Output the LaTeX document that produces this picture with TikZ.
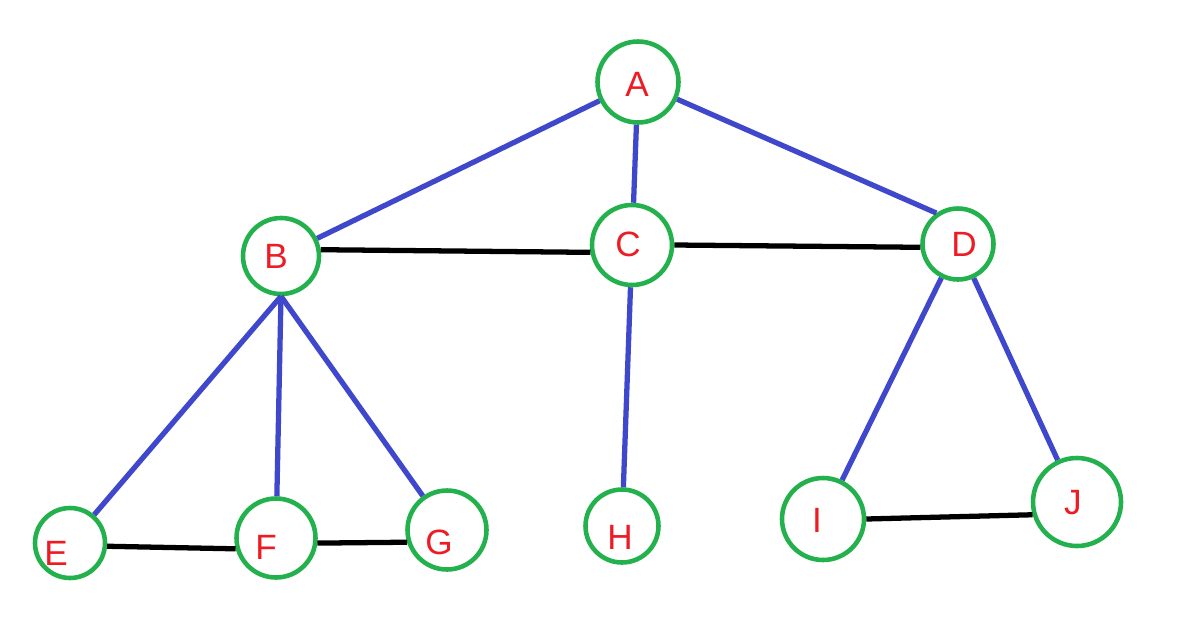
\documentclass[tikz,border=0pt]{standalone}
\usepackage{fontspec}
\setmainfont{Liberation Sans}
\usepackage{tikz}
\usetikzlibrary{positioning}

\definecolor{ringgreen}{RGB}{34,177,76}
\definecolor{treeblue}{RGB}{63,72,204}
\definecolor{tagred}{RGB}{237,28,36}

\begin{document}
\begin{tikzpicture}[
  vtx/.style={circle,draw=ringgreen,line width=2.6pt,inner sep=0pt},
  ltr/.style={text=tagred,font=\fontsize{20}{20}\selectfont,inner sep=0pt},
  tree/.style={draw=treeblue,line width=3pt},
  link/.style={draw=black,line width=3pt}]

\useasboundingbox (0,0) rectangle (23.9,-12.32);

% --- circles, one per vertex ---
\node[vtx,minimum size=1.62cm] (A) at (12.76,-1.64) {};
\node[vtx,minimum size=1.52cm] (B) at (5.62,-5.12) {};
\node[vtx,minimum size=1.60cm] (C) at (12.64,-4.90) {};
\node[vtx,minimum size=1.42cm] (D) at (19.16,-4.88) {};
\node[vtx,minimum size=1.40cm] (E) at (1.40,-10.86) {};
\node[vtx,minimum size=1.58cm] (F) at (5.52,-10.76) {};
\node[vtx,minimum size=1.58cm] (G) at (8.94,-10.60) {};
\node[vtx,minimum size=1.46cm] (H) at (12.44,-10.52) {};
\node[vtx,minimum size=1.64cm] (I) at (16.46,-10.38) {};
\node[vtx,minimum size=1.76cm] (J) at (21.54,-10.04) {};

% --- letters, a little off centre as drawn ---
\node[ltr] (lA) at (12.74,-1.68) {A};
\node[ltr] (lB) at (5.52,-5.12) {B};
\node[ltr] (lC) at (12.56,-4.88) {C};
\node[ltr] (lD) at (19.28,-4.88) {D};
\node[ltr] (lE) at (1.12,-11.06) {E};
\node[ltr] (lF) at (5.32,-10.94) {F};
\node[ltr] (lG) at (8.78,-10.84) {G};
\node[ltr] (lH) at (12.40,-10.74) {H};
\node[ltr] (lI) at (16.34,-10.40) {I};
\node[ltr] (lJ) at (21.46,-10.06) {J};

% --- tree edges (blue) ---
\draw[tree] (A) -- (B);
\draw[tree] (A) -- (C);
\draw[tree] (A) -- (D.125);
\draw[tree] (B.south) -- (E);
\draw[tree] (B.south) -- (F);
\draw[tree] (B.south) -- (G);
\draw[tree] (C) -- (H);
\draw[tree] (D) -- (I);
\draw[tree] (D) -- (J);

% --- sibling links (black), kept level as drawn ---
\draw[link] (B.9) -- (C.190);
\draw[link] (C.0) -- (D.185);
\draw[link] (E.-5) -- (F.195);
\draw[link] (F.-7) -- (G.197);
\draw[link] (I.0) -- (J.196);
\end{tikzpicture}
\end{document}
